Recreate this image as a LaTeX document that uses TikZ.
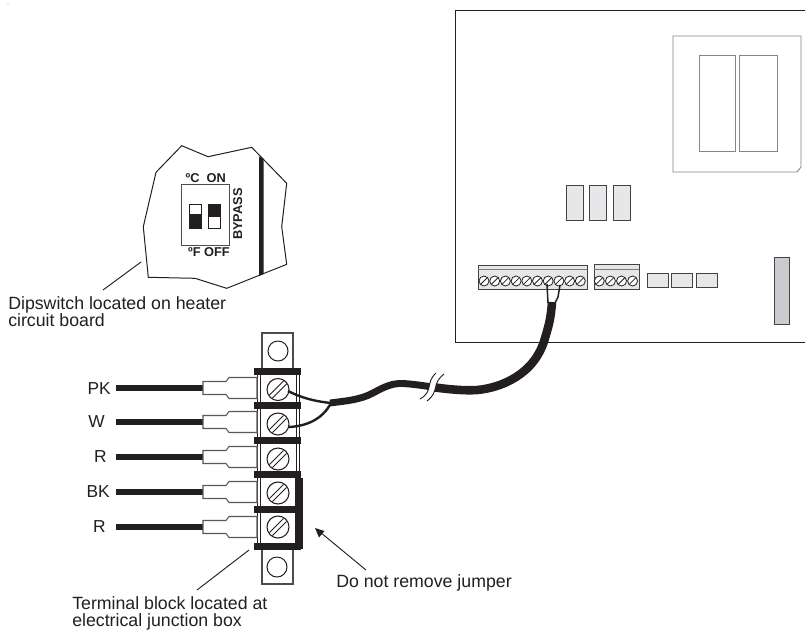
\documentclass[tikz,border=0pt]{standalone}
\usepackage{fontspec}
\setmainfont{Liberation Sans}
\definecolor{panel}{HTML}{E6E7E8}
\definecolor{panelb}{HTML}{C9CBCE}
\definecolor{ink}{HTML}{231F20}
\tikzset{
  x=0.75pt,y=-0.75pt,
  thin line/.style={draw=ink,line width=0.75pt},
  grey line/.style={draw=ink!55,line width=0.65pt},
  panelbox/.style={draw=ink!85,fill=panel,line width=0.7pt},
  leader/.style={draw=ink,line width=0.7pt},
  label/.style={font=\fontsize{13.3pt}{12.75pt}\selectfont,text=ink,inner sep=0pt,align=left},
  wirelabel/.style={font=\fontsize{13pt}{14pt}\selectfont,text=ink,inner sep=0pt},
  diplabel/.style={font=\fontsize{9.6pt}{10pt}\selectfont\bfseries,text=ink,inner sep=0pt},
  cable/.style={draw=ink,line cap=butt,line join=round},
}
\newcommand{\smallscrew}[2]{%
  \draw[draw=ink,fill=white,line width=0.6pt] (#1,#2) circle (5);
  \draw[draw=ink,line width=0.6pt] (#1-3.4,#2+3.4) -- (#1+3.4,#2-3.4);
}
\newcommand{\bigscrew}[2]{%
  \draw[draw=ink,fill=white,line width=0.8pt] (#1,#2) circle (11);
  \draw[draw=ink,line width=0.6pt] (#1-8.5,#2+5.5) -- (#1+5.5,#2-8.5);
  \draw[draw=ink,line width=0.6pt] (#1-5.5,#2+8.5) -- (#1+8.5,#2-5.5);
}
\newcommand{\lugwire}[1]{%
  \fill[ink] (116,#1-2.7) rectangle (204,#1+2.7);
  \draw[draw=ink!75,fill=white,line width=0.8pt] (203,#1-6.5) -- (226,#1-6.5) -- (229,#1-10.5) -- (257,#1-10.5)
     -- (257,#1+10.5) -- (229,#1+10.5) -- (226,#1+6.5) -- (203,#1+6.5) -- cycle;
}
\begin{document}
\begin{tikzpicture}
\useasboundingbox (0,0) rectangle (805,633);
\fill[white] (0,0) rectangle (805,633);

% board
\draw[thin line] (805,10) -- (455,10) -- (455,342) -- (805,342);
% relay
\draw[grey line] (673,36) -- (801,36) -- (801,167) -- (797,172) -- (673,172) -- cycle;
\draw[grey line] (699,55) rectangle (735,151);
\draw[grey line] (739,55) rectangle (777,151);
% small components
\draw[panelbox] (566,185) rectangle (583,220);
\draw[panelbox] (589,185) rectangle (606,220);
\draw[panelbox] (613,185) rectangle (630,220);
\draw[panelbox] (647,273) rectangle (668,287);
\draw[panelbox] (671,273) rectangle (692,287);
\draw[panelbox] (696,273) rectangle (717,287);
\draw[panelbox,fill=panelb] (774,257) rectangle (789,324);
% board terminal strips
\draw[panelbox] (478,265) rectangle (587,289);
\draw[draw=ink!60,line width=0.6pt] (478,269) -- (587,269);
\foreach \i in {0,...,9} {\smallscrew{484+10.7*\i}{281}}
\draw[panelbox] (594,264) rectangle (639,289);
\draw[draw=ink!60,line width=0.6pt] (594,269) -- (639,269);
\foreach \i in {0,...,3} {\smallscrew{599.3+11.1*\i}{281}}

% dipswitch patch
\draw[thin line] (181.7,145.7) -- (208,156.7) -- (251.7,147.3) -- (286.7,183.3) -- (281.7,226.7) -- (286.7,264.3)
  -- (226.7,288.3) -- (195,278.3) -- (148.3,277.3) -- (143.3,226.7) -- (156,172.3) -- cycle;
\fill[ink] (259,156.5) -- (263.5,159) -- (263.5,274) -- (259,276) -- cycle;
\draw[draw=ink!80,line width=0.75pt] (181,184.3) rectangle (229.3,245.3);
\draw[thin line,fill=white] (189.3,204) rectangle (201.3,228.3);
\fill[ink] (189.3,214) rectangle (201.3,228.3);
\draw[thin line,fill=white] (208.3,204) rectangle (220.7,228.3);
\fill[ink] (208.3,204) rectangle (220.7,217);
\node[diplabel] (dipc) at (205.7,178.5) {ºC\ \ ON};
\node[diplabel] (dipf) at (209,252.5) {ºF OFF};
\node[diplabel,rotate=90] (dipb) at (237.7,214) {BYPASS};

% labels
\node[label,anchor=west] (diptext) at (8,311.5) {Dipswitch located on heater\\circuit board};
\node[label,anchor=west] (blocktext) at (72,613.5) {Terminal block located at\\electrical junction box};
\node[label,anchor=west] (jumpertext) at (336,583) {Do not remove jumper};
\coordinate (diplead) at (141,262);
\coordinate (diplead2) at (103,290);
\draw[leader] (diplead) -- (diplead2);
\coordinate (blocklead) at (249,550);
\coordinate (blocklead2) at (197,590);
\draw[leader] (blocklead) -- (blocklead2);
\coordinate (jumptail) at (366,570);
\coordinate (jumphead) at (315,528);
\fill[ink] (jumphead) -- (324.5,531) -- (319,537.5) -- cycle;
\draw[leader] (jumptail) -- (320,532);

% terminal block
\draw[draw=ink!80,fill=white,line width=0.85pt] (262,333) rectangle (293,370);
\draw[thin line] (278,351) circle (10);
\draw[draw=ink!80,fill=white,line width=0.85pt] (262,548) rectangle (293,584);
\draw[thin line] (277,567) circle (10);
\draw[thin line] (257,370) -- (257,548);
\draw[thin line] (260,370) -- (260,548);
\draw[thin line] (296,370) -- (296,548);
\draw[thin line] (299,370) -- (299,478);

% lugs and wires
\foreach \y in {388,422,457,492,527} {\lugwire{\y}}
\node[wirelabel,anchor=east] (pk) at (111,389) {PK};
\node[wirelabel,anchor=east] (w) at (105,422) {W};
\node[wirelabel,anchor=east] (r1) at (107,457) {R};
\node[wirelabel,anchor=east] (bk) at (110,492) {BK};
\node[wirelabel,anchor=east] (r2) at (106,527) {R};

% screws
\foreach \y in {389.5,424,459,493,527} {\bigscrew{278}{\y}}

% bars and jumper
\foreach \y in {368,402,437,471,506,543} {\fill[ink] (254,\y) rectangle (301,\y+6.5);}
\fill[ink] (295,478) rectangle (303,548.5);

% cable
\coordinate (w1a) at (288,391);
\coordinate (w2a) at (289,427);
\coordinate (joint) at (331,403);
\draw[draw=ink,line width=1.8pt] (w1a) .. controls (300,397) and (312,401) .. (joint);
\draw[draw=ink,line width=1.8pt] (w2a) .. controls (306,426) and (322,420) .. (joint);
\draw[cable,line width=5.2pt] (330,403) .. controls (345,401) and (360,400) .. (373,393) .. controls (384,387) and (392,383) .. (403,383.5) .. controls (411,384) and (420,385) .. (432,387);
\draw[cable,line width=6.4pt] (432,387)
  .. controls (445,389) and (465,391) .. (477,390) .. controls (500,388) and (535,375) .. (545,338) .. controls (550,322) and (551,315) .. (552,302);
% cable break
\fill[white] (436,373) .. controls (425,383) and (434,391) .. (420,399) -- (427,401) .. controls (440,391) and (431,384) .. (444,374) -- cycle;
\draw[draw=ink,line width=0.7pt] (436,373) .. controls (425,383) and (434,391) .. (420,399);
\draw[draw=ink,line width=0.7pt] (444,374) .. controls (431,384) and (440,391) .. (427,401);
% board end wires
\coordinate (tw1) at (547,284);
\coordinate (tw2) at (560,285);
\draw[draw=ink,line width=1.1pt] (tw1) -- (548,303);
\draw[draw=ink,line width=1.1pt] (tw2) -- (558,297) -- (555,303);
\node[inner sep=0pt,font=\fontsize{4pt}{4pt}\selectfont] (dot) at (8,4) {.};
\end{tikzpicture}
\end{document}
